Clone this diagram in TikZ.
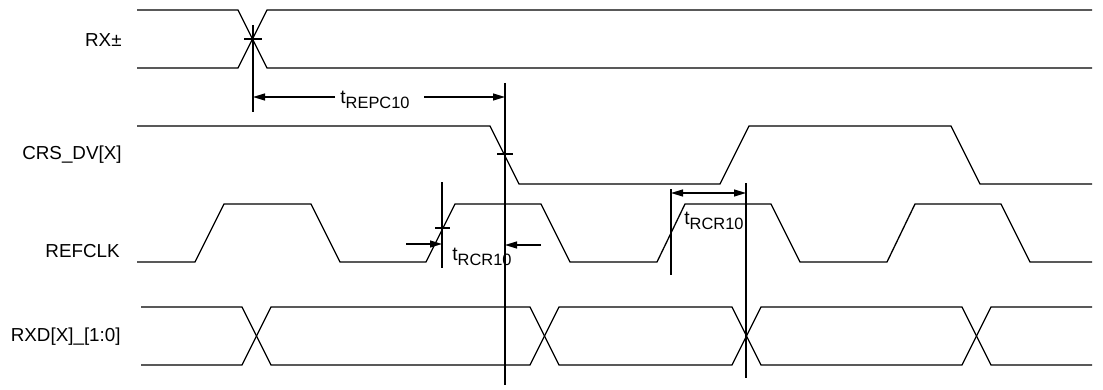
\documentclass[tikz,border=0pt]{standalone}
\usepackage{fontspec}
\setmainfont{Liberation Sans}
\usetikzlibrary{arrows.meta}
\begin{document}
\begin{tikzpicture}[x=0.5pt,y=-0.5pt,
  wave/.style={line width=0.65pt,line join=miter},
  guide/.style={line width=0.6pt},
  dim/.style={line width=0.6pt,-{Triangle[length=6pt,width=3.5pt]}},
  dimboth/.style={line width=0.6pt,{Triangle[length=6pt,width=3.5pt]}-{Triangle[length=6pt,width=3.5pt]}},
  siglabel/.style={anchor=east,inner sep=0pt,font=\fontsize{9.4}{11}\selectfont},
  tlabel/.style={anchor=west,inner sep=0pt,font=\fontsize{9.6}{11}\selectfont}]
\useasboundingbox (0,0) rectangle (1103,390);
\newcommand{\tsub}[1]{t\raisebox{-0.55ex}{\fontsize{8.2}{9}\selectfont #1}}
% signal labels
\node[siglabel] (lrx) at (122,40) {RX±};
\node[siglabel] (lcrs) at (122,155) {CRS\_DV[X]};
\node[siglabel] (lclk) at (120,251) {REFCLK};
\node[siglabel] (lrxd) at (121,337) {RXD[X]\_[1:0]};
% RX+-
\draw[wave] (137,10)--(238,10)--(267,68)--(1092,68);
\draw[wave] (137,68)--(238,68)--(267,10)--(1092,10);
% CRS_DV
\draw[wave] (137,126)--(490,126)--(519,184)--(720,184)--(749,126)--(951,126)--(980,184)--(1092,184);
% REFCLK
\draw[wave] (137,262)--(195,262)--(224,204)--(311,204)--(340,262)--(426,262)--(455,204)--(541,204)--(570,262)--(657,262)--(685,204)--(771,204)--(800,262)--(887,262)--(915,204)--(1001,204)--(1030,262)--(1092,262);
% RXD
\draw[wave] (141,307)--(242,307)--(271,365)--(530,365)--(559,307)--(732,307)--(761,365)--(962,365)--(991,307)--(1092,307);
\draw[wave] (141,365)--(242,365)--(271,307)--(530,307)--(559,365)--(732,365)--(761,307)--(962,307)--(991,365)--(1092,365);
% guide lines and ticks
\coordinate (g1t) at (253,25); \coordinate (g1b) at (253,112);
\coordinate (g2t) at (505,83); \coordinate (g2b) at (505,385);
\coordinate (g3t) at (442,182); \coordinate (g3b) at (442,268);
\coordinate (g4t) at (671,189); \coordinate (g4b) at (671,275);
\coordinate (g5t) at (746,183); \coordinate (g5b) at (746,378);
\draw[guide] (g1t)--(g1b);
\draw[guide] (g2t)--(g2b);
\draw[guide] (g3t)--(g3b);
\draw[guide] (g4t)--(g4b);
\draw[guide] (g5t)--(g5b);
\draw[guide] (244,39)--(262,39);
\draw[guide] (497,154)--(513,154);
\draw[guide] (435,228)--(450,228);
% tREPC10
\node[tlabel] (trepc) at (340,100) {\tsub{REPC10}};
\coordinate (a1s) at (335,97); \coordinate (a1e) at (253,97);
\coordinate (a2s) at (424,97); \coordinate (a2e) at (505,97);
\draw[dim] (a1s)--(a1e);
\draw[dim] (a2s)--(a2e);
% tRCR10 (first)
\node[tlabel] (trcr1) at (452,257) {\tsub{RCR10}};
\coordinate (b1s) at (406,244); \coordinate (b1e) at (442,244);
\coordinate (b2s) at (541,245); \coordinate (b2e) at (505,245);
\draw[dim] (b1s)--(b1e);
\draw[dim] (b2s)--(b2e);
% tRCR10 (second)
\node[tlabel] (trcr2) at (684,221) {\tsub{RCR10}};
\coordinate (c1s) at (671,193); \coordinate (c1e) at (746,193);
\draw[dimboth] (c1s)--(c1e);
\end{tikzpicture}
\end{document}
